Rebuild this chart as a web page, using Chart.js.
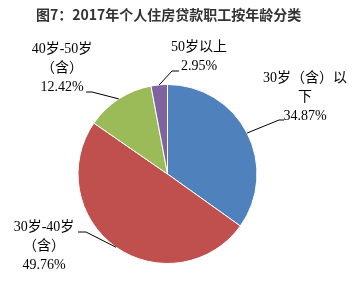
<!DOCTYPE html>
<html><head><meta charset="utf-8">
<script src="https://cdn.jsdelivr.net/npm/chart.js@4"></script>
<style>html,body{margin:0;padding:0;background:#fff;}#wrap{width:360px;height:284px;position:relative;}</style>
</head><body><div id="wrap"><canvas id="c" width="360" height="284"></canvas></div>
<script>
const title = "图7：2017年个人住房贷款职工按年龄分类";
const categories = ["30岁（含）以下", "30岁-40岁（含）", "40岁-50岁（含）", "50岁以上"];
const values = [34.87, 49.76, 12.42, 2.95];
const colors = ["#4F81BD", "#C0504D", "#9BBB59", "#8064A2"];
// displayed label lines (category wrapped as in the picture) and value labels
const labelLines = [["30岁（含）以", "下"], ["30岁-40岁", "（含）"], ["40岁-50岁", "（含）"], ["50岁以上"]];
const valueLabels = values.map(v => v.toFixed(2) + "%");

// label layout: text centre x, first line centre y, elbow point, line end point
const labelLayout = [
  {cx: 305, y0: 78, elbow: [279, 120], end: [284, 120]},
  {cx: 44, y0: 227, elbow: [86, 232], end: [78, 232]},
  {cx: 62, y0: 49, elbow: [92, 92], end: [86, 92]},
  {cx: 199, y0: 47, elbow: [172, 71], end: [179, 71]}
];

const labelPlugin = {
  id: 'labels',
  afterDraw(chart) {
    const ctx = chart.ctx;
    ctx.save();
    // title
    ctx.font = "bold 14px 'Noto Sans CJK SC', sans-serif";
    ctx.fillStyle = "#333333";
    ctx.textAlign = "left";
    ctx.textBaseline = "middle";
    ctx.fillText(title, 36, 15);
    const meta = chart.getDatasetMeta(0);
    meta.data.forEach((arc, i) => {
      const p = arc.getProps(['x', 'y', 'startAngle', 'endAngle', 'outerRadius'], true);
      const mid = (p.startAngle + p.endAngle) / 2;
      const sx = p.x + Math.cos(mid) * p.outerRadius;
      const sy = p.y + Math.sin(mid) * p.outerRadius;
      const L = labelLayout[i];
      ctx.strokeStyle = "#000";
      ctx.lineWidth = 1;
      ctx.beginPath();
      ctx.moveTo(sx, sy);
      ctx.lineTo(L.elbow[0], L.elbow[1]);
      ctx.lineTo(L.end[0], L.end[1]);
      ctx.stroke();
      ctx.font = "14px 'Liberation Serif', 'Noto Sans CJK SC', serif";
      ctx.fillStyle = "#000";
      ctx.textAlign = "center";
      ctx.textBaseline = "middle";
      const lines = labelLines[i].concat([valueLabels[i]]);
      lines.forEach((t, k) => ctx.fillText(t, L.cx, L.y0 + k * 19));
    });
    ctx.restore();
  }
};

new Chart(document.getElementById('c'), {
  type: 'pie',
  data: {
    labels: categories,
    datasets: [{
      data: values,
      backgroundColor: colors,
      borderColor: "#ffffff",
      borderWidth: 1
    }]
  },
  options: {
    responsive: false,
    animation: false,
    layout: {padding: {left: 77, right: 102, top: 84, bottom: 20}},
    plugins: {legend: {display: false}, tooltip: {enabled: false}, title: {display: false}}
  },
  plugins: [labelPlugin]
});
</script>
</body></html>
